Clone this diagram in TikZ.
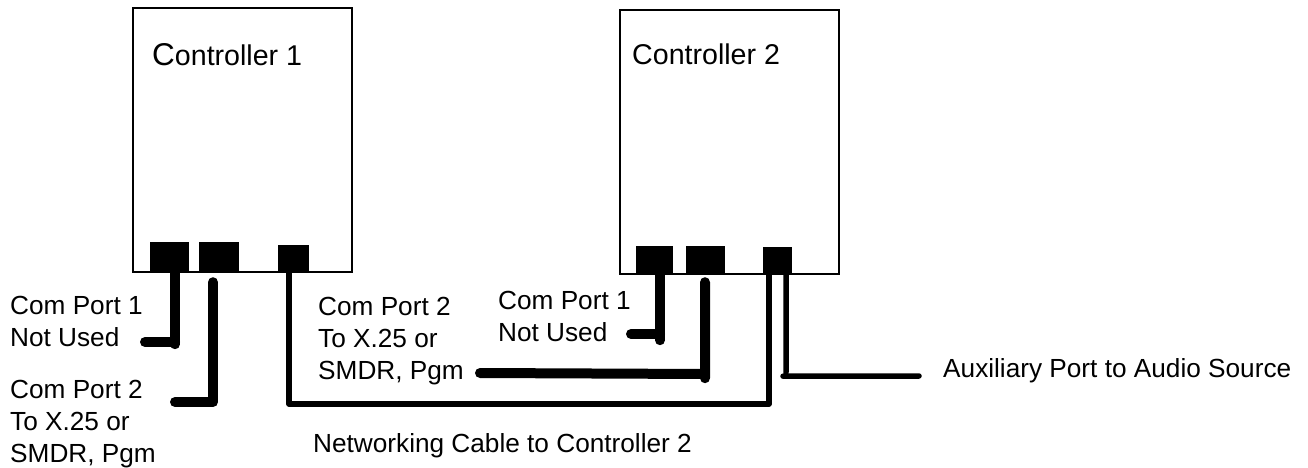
\documentclass[tikz,border=0pt]{standalone}
\usepackage{fontspec}
\setmainfont{Liberation Sans}
\begin{document}
\begin{tikzpicture}[x=1pt,y=-1pt,
  ctrlbox/.style={draw,line width=1.5pt,minimum width=219pt,minimum height=264pt,inner sep=0pt},
  port/.style={fill=black,draw=none,inner sep=0pt},
  lbl/.style={inner sep=0pt,anchor=base west,align=left,font=\fontsize{26.2}{32}\selectfont},
  ctrllbl/.style={inner sep=0pt,anchor=base west,font=\fontsize{28.6}{32}\selectfont},
  thickcable/.style={line width=10pt,line cap=round,line join=round},
  thincable/.style={line width=5.5pt,line cap=round,line join=round}]
\useasboundingbox (0,0) rectangle (1308,468);
% controllers
\node[ctrlbox] (ctrl1) at (242.5,140) {};
\node[ctrlbox] (ctrl2) at (729.5,142) {};
\node[ctrllbl] (t1) at (152,66) {{\fontsize{31.5}{32}\selectfont C}ontroller 1};
\node[ctrllbl] (t2) at (632,65) {Controller 2};
% ports
\node[port,minimum width=39pt,minimum height=30pt] (p1a) at (169.5,257) {};
\node[port,minimum width=40pt,minimum height=30pt] (p1b) at (219,257) {};
\node[port,minimum width=31pt,minimum height=27pt] (p1c) at (293.5,258.5) {};
\node[port,minimum width=37pt,minimum height=28pt] (p2a) at (654.5,260) {};
\node[port,minimum width=39pt,minimum height=28pt] (p2b) at (705.5,260) {};
\node[port,minimum width=29pt,minimum height=27pt] (p2c) at (777.5,260.5) {};
% cable ends
\coordinate (e1a) at (145,342);
\coordinate (e1b) at (175,402);
\coordinate (e2a) at (631,334);
\coordinate (e2b) at (480,373);
\coordinate (eaux) at (919,376);
\coordinate (netc) at (289,404);
% cables
\draw[thickcable] ([xshift=5.5pt]p1a.south) -- ++(0,72) (e1a) -- ++(30,0);
\draw[thickcable] ([xshift=-6pt,yshift=-10pt]p1b.south) |- (e1b);
\draw[thickcable] ([xshift=5.5pt]p2a.south) -- ++(0,66) (e2a) -- ++(29,0);
\draw[thickcable] ([xshift=-0.5pt,yshift=-8pt]p2b.south) -- ++(0,96) (e2b) -- ++(225,1);
\draw[thincable] ([xshift=-4.5pt]p1c.south) -- (netc) -| ([xshift=-8.5pt]p2c.south);
\draw[thincable] ([xshift=8.5pt]p2c.south) -- ++(0,98) ([xshift=5.5pt,yshift=-102pt]p2c.south) -- (eaux);
% labels (anchor = baseline of the last line)
\node[lbl] (l1) at (10,346) {Com Port 1\\Not Used};
\node[lbl] (l2) at (10,462) {Com Port 2\\To X.25 or\\SMDR, Pgm};
\node[lbl] (l3) at (318,379) {Com Port 2\\To X.25 or\\SMDR, Pgm};
\node[lbl] (l4) at (498,341) {Com Port 1\\Not Used};
\node[lbl] (l5) at (313,452) {Networking Cable to Controller 2};
\node[lbl] (l6) at (943,377) {Auxiliary Port to Audio Source};
\end{tikzpicture}
\end{document}
